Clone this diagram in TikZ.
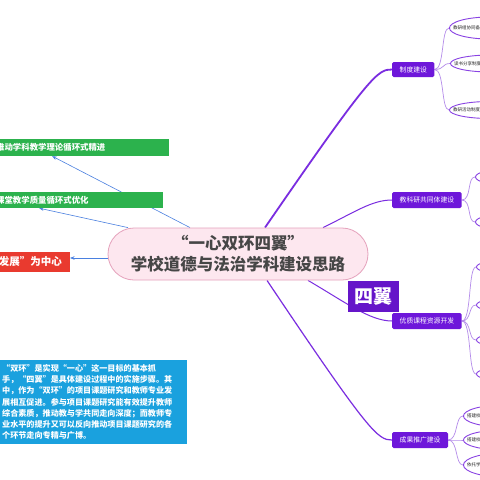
\documentclass[tikz,border=0pt]{standalone}
\usepackage{fontspec}
\setmainfont{Noto Sans CJK SC}
\usepackage{xcolor}
\usepackage{tikz}
\usetikzlibrary{positioning}
\usetikzlibrary{shapes.geometric}
\usetikzlibrary{arrows.meta}
\usetikzlibrary{backgrounds}
\definecolor{hubpink}{HTML}{FDE7EF}
\definecolor{hubline}{HTML}{E5A2BC}
\definecolor{hubtext}{HTML}{464646}
\definecolor{wingfill}{HTML}{6E17DA}
\definecolor{limbline}{HTML}{7A2DE0}
\definecolor{twigline}{HTML}{B58CEA}
\definecolor{leafline}{HTML}{8943E3}
\definecolor{ringgreen}{HTML}{2CB24D}
\definecolor{corered}{HTML}{E93A2F}
\definecolor{arrowblue}{HTML}{4A80E0}
\definecolor{noteblue}{HTML}{1AA1DE}
\tikzset{
  hub/.style={fill=hubpink, draw=hubline, line width=0.8pt, rounded corners=26pt,
    minimum width=260pt, minimum height=52pt, align=center, text=hubtext,
    font=\fontsize{16.5}{21}\selectfont\bfseries},
  wingbox/.style={fill=wingfill, rounded corners=1.5pt, text=white,
    font=\fontsize{6.8}{7}\selectfont, minimum height=16pt, inner xsep=7.5pt,
    inner ysep=0pt, anchor=west},
  limb/.style={draw=limbline, line width=1pt},
  twig/.style={draw=twigline, line width=0.7pt},
  leaf/.style={ellipse, draw=leafline, line width=0.9pt, fill=white,
    minimum width=80pt, inner sep=0pt, anchor=west},
  leaftext/.style={font=\fontsize{4.5}{5}\selectfont, text=black!85,
    inner sep=0pt, anchor=west},
  ringbar/.style={fill=ringgreen, text=white, font=\fontsize{8.4}{9}\selectfont\bfseries,
    inner xsep=0pt, inner ysep=0pt, align=left, anchor=west},
  pointer/.style={draw=arrowblue, line width=0.6pt, -{Stealth[length=4.5pt,width=3.5pt]}},
  note/.style={fill=noteblue, text=white, font=\fontsize{8.1}{11.1}\selectfont\bfseries,
    text width=183pt, inner xsep=2pt, minimum height=84pt, align=left, anchor=west}
}
\begin{document}
\begin{tikzpicture}[x=1pt, y=-1pt]
\useasboundingbox (0,0) rectangle (480,480);
\node[hub] (hub) at (238,254) {“一心双环四翼”\\学校道德与法治学科建设思路};

\node[ringbar, text width=173pt, minimum height=17pt] (theory) at (-4,147.5) {推动学科教学理论循环式精进};
\node[ringbar, text width=167pt, minimum height=16pt] (lesson) at (-4,200) {课堂教学质量循环式优化};
\node[ringbar, fill=corered, font=\fontsize{10.5}{11}\selectfont\bfseries, text width=90pt,
  align=right, anchor=east, minimum height=20pt, inner xsep=8pt] (centre) at (70,262) {发展”为中心};

\node[note] (note) at (0,402) {“双环”是实现“一心”这一目标的基本抓\\
手，“四翼”是具体建设过程中的实施步骤。其\\
中，作为“双环”的项目课题研究和教师专业发\\
展相互促进。参与项目课题研究能有效提升教师\\
综合素质，推动教与学共同走向深度；而教师专\\
业水平的提升又可以反向推动项目课题研究的各\\
个环节走向专精与广博。};

\node[wingbox, minimum height=15pt] (rules) at (392,69.5) {制度建设};
\node[wingbox] (team) at (392,200) {教科研共同体建设};
\node[wingbox] (course) at (392,321) {优质课程资源开发};
\node[wingbox] (share) at (392,440) {成果推广建设};
\node[fill=wingfill!92!black, text=white, font=\fontsize{19}{20}\selectfont\bfseries,
  minimum height=31pt, inner xsep=6.5pt, inner ysep=0pt] (wings) at (373.5,296.5) {四翼};

\node[leaf, minimum height=22pt] (rules1) at (449,28) {};
\node[leaf, minimum height=17pt] (rules2) at (450,63.5) {};
\node[leaf, minimum height=17pt] (rules3) at (449,110) {};
\node[leaftext] (rules1t) at ([xshift=4pt]rules1.west) {教研组协同备};
\node[leaftext] (rules2t) at ([xshift=4pt]rules2.west) {读书分享制度};
\node[leaftext] (rules3t) at ([xshift=4pt]rules3.west) {教研活动制度};

\node[leaf, minimum height=18pt] (team1) at (475,177) {};
\node[leaf, minimum height=18pt] (team2) at (475,222) {};

\node[leaf, minimum height=16pt] (course1) at (476,267) {};
\node[leaf, minimum height=16pt] (course2) at (476,305) {};
\node[leaf, minimum height=16pt] (course3) at (476,340) {};
\node[leaf, minimum height=16pt] (course4) at (476,374) {};

\node[leaf, minimum height=22pt] (share1) at (463,416) {};
\node[leaf, minimum height=20pt] (share2) at (463,440) {};
\node[leaf, minimum height=24pt] (share3) at (463,465) {};
\node[leaftext] (share1t) at ([xshift=4pt]share1.west) {搭建校};
\node[leaftext] (share2t) at ([xshift=4pt]share2.west) {搭建校};
\node[leaftext] (share3t) at ([xshift=4pt]share3.west) {依托学};

\begin{pgfonlayer}{background}
\fill[white] (0,0) rectangle (480,480);
\draw[pointer] ([xshift=-48pt]hub.north) -- ([xshift=-30.5pt]theory.south);
\draw[pointer] ([xshift=-110pt]hub.north) -- ([xshift=-40.5pt]lesson.south);
\draw[pointer] ([yshift=-4pt]hub.west) -- ([yshift=4pt]centre.east);

\draw[limb, line width=1.8pt] ([xshift=27pt]hub.north) .. controls (372,72) and (378,69.5) .. (rules.west);
\draw[limb] ([xshift=85pt]hub.north) .. controls (355,212) and (372,200) .. (team.west);
\draw[limb] ([xshift=70pt]hub.south) .. controls (345,302) and (370,321) .. (course.west);
\draw[limb, line width=1.2pt] ([xshift=29pt]hub.south) .. controls (370,434) and (378,440) .. (share.west);

\foreach \leaf in {rules1,rules2,rules3}
  \draw[twig] (rules.east) .. controls +(10,0) and +(-8,0) .. (\leaf.west);
\foreach \leaf in {team1,team2}
  \draw[twig] (team.east) .. controls +(10,0) and +(-8,0) .. (\leaf.west);
\foreach \leaf in {course1,course2,course3,course4}
  \draw[twig] (course.east) .. controls +(10,0) and +(-8,0) .. (\leaf.west);
\foreach \leaf in {share1,share2,share3}
  \draw[twig] (share.east) .. controls +(10,0) and +(-8,0) .. (\leaf.west);
\end{pgfonlayer}
\end{tikzpicture}
\end{document}
